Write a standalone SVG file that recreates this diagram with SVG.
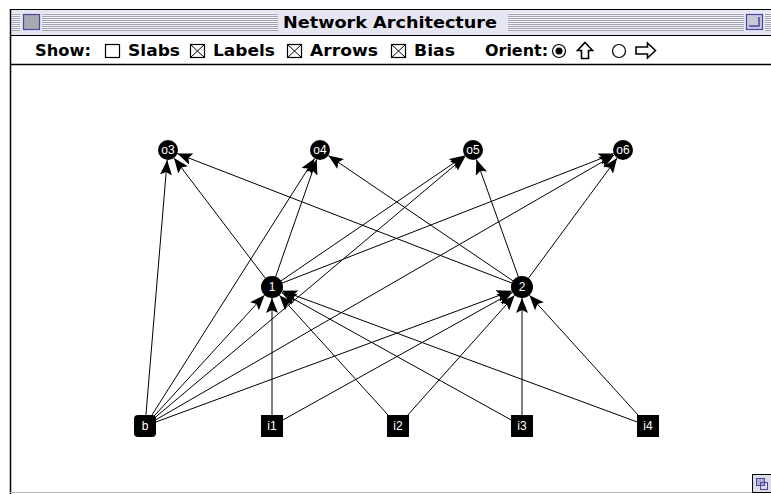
<svg xmlns="http://www.w3.org/2000/svg" width="771" height="494" viewBox="0 0 771 494">
<style>
.ui{font-family:"DejaVu Sans","Liberation Sans",sans-serif;font-weight:bold;font-size:15px;fill:#000}
.title{font-family:"DejaVu Sans","Liberation Sans",sans-serif;font-weight:bold;font-size:16px;fill:#000}
.box{fill:#fff;stroke:#000;stroke-width:1.2}
.edge{stroke:#000;stroke-width:1;fill:none}
.node{fill:#000}
.lbl{font-family:"Liberation Sans",Arial,sans-serif;font-size:12px;fill:#fff;text-anchor:middle}
</style>
<defs>
<marker id="ah" markerUnits="userSpaceOnUse" markerWidth="16" markerHeight="12" refX="15" refY="6" orient="auto">
<path d="M0,0 L15,6 L0,12 L3,6 z" fill="#000"/>
</marker>
<pattern id="stripes" patternUnits="userSpaceOnUse" width="4" height="2">
<rect width="4" height="1" fill="#a4a4b0"/>
<rect y="1" width="4" height="1" fill="#f2f2f8"/>
</pattern>
</defs>
<rect width="771" height="494" fill="#fff"/>
<g id="titlebar">
<rect x="10" y="9" width="761" height="26" fill="#e6e6f2"/>
<line x1="10" y1="9.5" x2="771" y2="9.5" stroke="#000"/>
<rect x="12" y="13" width="266" height="18" fill="url(#stripes)"/>
<rect x="508" y="13" width="236" height="18" fill="url(#stripes)"/>
<rect x="765" y="13" width="6" height="18" fill="url(#stripes)"/>
<rect x="20" y="12" width="22" height="20" fill="#e6e6f2"/>
<rect x="23.5" y="14.5" width="16" height="15" fill="#a8a8b0" stroke="#4848a0" stroke-width="1.2"/>
<rect x="744" y="12" width="21" height="20" fill="#e6e6f2"/>
<rect x="746.5" y="14.5" width="16" height="15" fill="#c8c8d8" stroke="#4848a0" stroke-width="1.2"/>
<polyline points="749,26 759,26 759,17" fill="none" stroke="#4848a0" stroke-width="1.5"/>
<text x="390" y="28" class="title" text-anchor="middle" textLength="214" lengthAdjust="spacingAndGlyphs">Network Architecture</text>
<line x1="10" y1="35.5" x2="771" y2="35.5" stroke="#000"/>
</g>
<g id="toolbar">
<text x="35" y="56" class="ui" textLength="56" lengthAdjust="spacingAndGlyphs">Show:</text>
<rect x="105.5" y="44.5" width="14" height="13" class="box"/>
<text x="128" y="56" class="ui" textLength="52" lengthAdjust="spacingAndGlyphs">Slabs</text>
<rect x="190.5" y="44.5" width="14" height="13" class="box"/>
<path d="M190.5,44.5 L204.5,57.5 M204.5,44.5 L190.5,57.5" stroke="#000" stroke-width="1"/>
<text x="213" y="56" class="ui" textLength="62" lengthAdjust="spacingAndGlyphs">Labels</text>
<rect x="287.5" y="44.5" width="14" height="13" class="box"/>
<path d="M287.5,44.5 L301.5,57.5 M301.5,44.5 L287.5,57.5" stroke="#000" stroke-width="1"/>
<text x="310" y="56" class="ui" textLength="68" lengthAdjust="spacingAndGlyphs">Arrows</text>
<rect x="391.5" y="44.5" width="14" height="13" class="box"/>
<path d="M391.5,44.5 L405.5,57.5 M405.5,44.5 L391.5,57.5" stroke="#000" stroke-width="1"/>
<text x="414" y="56" class="ui" textLength="41" lengthAdjust="spacingAndGlyphs">Bias</text>
<text x="485" y="56" class="ui" textLength="63" lengthAdjust="spacingAndGlyphs">Orient:</text>
<circle cx="559" cy="51" r="6.5" fill="#fff" stroke="#000" stroke-width="1.2"/>
<circle cx="559" cy="51" r="3.5" fill="#000"/>
<path d="M585,42.5 L592.5,50.5 L588.5,50.5 L588.5,58.5 L581.5,58.5 L581.5,50.5 L577.5,50.5 Z" fill="#fff" stroke="#000" stroke-width="1.6"/>
<circle cx="619" cy="51" r="6.5" fill="#fff" stroke="#000" stroke-width="1.2"/>
<path d="M655.5,50.5 L647.5,43 L647.5,47 L636,47 L636,54 L647.5,54 L647.5,58 Z" fill="#fff" stroke="#000" stroke-width="1.6"/>
<line x1="10" y1="64.5" x2="771" y2="64.5" stroke="#000" stroke-width="1.5"/>
</g>
<g id="frame">
<line x1="10.5" y1="9" x2="10.5" y2="494" stroke="#000" stroke-width="1.5"/>
<line x1="10" y1="492.5" x2="771" y2="492.5" stroke="#b8b8b8"/>
<rect x="752.5" y="474.5" width="19" height="18" fill="#dcdce8" stroke="#000"/>
<rect x="756.5" y="478.5" width="8" height="7" fill="#b0b0d0" stroke="#4848a0"/>
<rect x="760.5" y="482.5" width="7" height="7" fill="none" stroke="#4848a0"/>
</g>
<g id="connectors">
<line x1="145" y1="426" x2="264.6" y2="295.1" class="edge" marker-end="url(#ah)"/>
<line x1="272" y1="426" x2="272" y2="298" class="edge" marker-end="url(#ah)"/>
<line x1="398" y1="426" x2="279.4" y2="295.2" class="edge" marker-end="url(#ah)"/>
<line x1="522" y1="426" x2="281.6" y2="292.3" class="edge" marker-end="url(#ah)"/>
<line x1="648" y1="426" x2="282.3" y2="290.8" class="edge" marker-end="url(#ah)"/>
<line x1="145" y1="426" x2="511.7" y2="290.8" class="edge" marker-end="url(#ah)"/>
<line x1="272" y1="426" x2="512.4" y2="292.3" class="edge" marker-end="url(#ah)"/>
<line x1="398" y1="426" x2="514.7" y2="295.2" class="edge" marker-end="url(#ah)"/>
<line x1="522" y1="426" x2="522" y2="298" class="edge" marker-end="url(#ah)"/>
<line x1="648" y1="426" x2="529.4" y2="295.2" class="edge" marker-end="url(#ah)"/>
<line x1="145" y1="426" x2="167.2" y2="160" class="edge" marker-end="url(#ah)"/>
<line x1="272" y1="287" x2="174" y2="158" class="edge" marker-end="url(#ah)"/>
<line x1="522" y1="287" x2="177.3" y2="153.6" class="edge" marker-end="url(#ah)"/>
<line x1="145" y1="426" x2="314.6" y2="158.4" class="edge" marker-end="url(#ah)"/>
<line x1="272" y1="287" x2="316.7" y2="159.4" class="edge" marker-end="url(#ah)"/>
<line x1="522" y1="287" x2="328.3" y2="155.6" class="edge" marker-end="url(#ah)"/>
<line x1="145" y1="426" x2="465.3" y2="156.4" class="edge" marker-end="url(#ah)"/>
<line x1="272" y1="287" x2="464.7" y2="155.6" class="edge" marker-end="url(#ah)"/>
<line x1="522" y1="287" x2="476.4" y2="159.4" class="edge" marker-end="url(#ah)"/>
<line x1="145" y1="426" x2="614.3" y2="155" class="edge" marker-end="url(#ah)"/>
<line x1="272" y1="287" x2="613.7" y2="153.6" class="edge" marker-end="url(#ah)"/>
<line x1="522" y1="287" x2="617.1" y2="158" class="edge" marker-end="url(#ah)"/>
</g>
<g id="o3"><circle cx="168" cy="150" r="10" class="node"/><text x="168" y="154" class="lbl">o3</text></g>
<g id="o4"><circle cx="320" cy="150" r="10" class="node"/><text x="320" y="154" class="lbl">o4</text></g>
<g id="o5"><circle cx="473" cy="150" r="10" class="node"/><text x="473" y="154" class="lbl">o5</text></g>
<g id="o6"><circle cx="623" cy="150" r="10" class="node"/><text x="623" y="154" class="lbl">o6</text></g>
<g id="h1"><circle cx="272" cy="287" r="11" class="node"/><text x="272" y="291" class="lbl">1</text></g>
<g id="h2"><circle cx="522" cy="287" r="11" class="node"/><text x="522" y="291" class="lbl">2</text></g>
<g id="b"><rect x="134" y="415" width="22" height="22" rx="4" class="node"/><text x="145" y="430" class="lbl">b</text></g>
<g id="i1"><rect x="261" y="415" width="22" height="22" class="node"/><text x="272" y="430" class="lbl">i1</text></g>
<g id="i2"><rect x="387" y="415" width="22" height="22" class="node"/><text x="398" y="430" class="lbl">i2</text></g>
<g id="i3"><rect x="511" y="415" width="22" height="22" class="node"/><text x="522" y="430" class="lbl">i3</text></g>
<g id="i4"><rect x="637" y="415" width="22" height="22" class="node"/><text x="648" y="430" class="lbl">i4</text></g>
</svg>
